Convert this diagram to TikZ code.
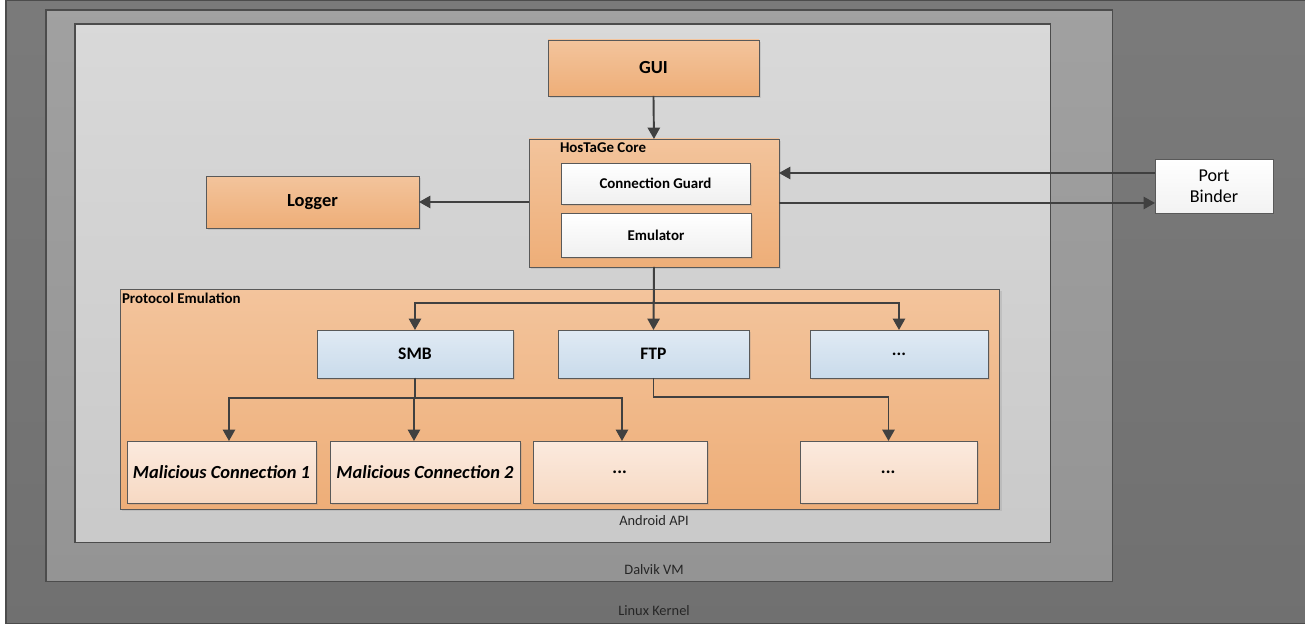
\documentclass[tikz,border=0pt]{standalone}
\usepackage{fontspec}
\setmainfont{Carlito}
\usetikzlibrary{arrows.meta,shadows}

\definecolor{orangetop}{HTML}{F3C49C}
\definecolor{orangebot}{HTML}{EEAE78}
\definecolor{bluetop}{HTML}{E0EAF4}
\definecolor{bluebot}{HTML}{C9DBEB}
\definecolor{peachtop}{HTML}{FBEADE}
\definecolor{peachbot}{HTML}{F7D9C3}
\definecolor{wiretone}{HTML}{404040}

\begin{document}
\begin{tikzpicture}[x=0.02cm,y=-0.02cm,
    every node/.style={inner sep=0pt,outer sep=0pt},
    layer/.style={draw=black!70,line width=0.6pt,anchor=north west},
    layertext/.style={font=\fontsize{8.2}{9}\selectfont,text=black!85},
    block/.style={draw=black!65,line width=0.5pt,anchor=north west,
        drop shadow={shadow xshift=1.3pt,shadow yshift=-1.3pt,opacity=0.2}},
    orangebox/.style={block,top color=orangetop,bottom color=orangebot},
    whitebox/.style={block,top color=white,bottom color=black!6,
        font=\fontsize{8.5}{10}\selectfont\bfseries},
    protobox/.style={block,top color=bluetop,bottom color=bluebot,
        minimum height=0.96cm,font=\fontsize{10}{12}\selectfont\bfseries},
    sessionbox/.style={block,top color=peachtop,bottom color=peachbot,
        minimum height=1.24cm,font=\fontsize{10.5}{12}\selectfont\bfseries\itshape},
    grouptitle/.style={anchor=north west,font=\fontsize{8.5}{10}\selectfont\bfseries},
    conn/.style={draw=wiretone,line width=1.1pt,
        -{Triangle[length=6.5pt,width=7pt]}}]
  \useasboundingbox[fill=white] (0,0) rectangle (1305,625);

  \node[layer,top color=black!52,bottom color=black!56,minimum width=26.2cm,
    minimum height=12.48cm] (linux) at (6,0) {};
  \node[layer,top color=black!37,bottom color=black!42,minimum width=21.34cm,
    minimum height=11.44cm] (dalvik) at (46,10) {};
  \node[layer,top color=black!15,bottom color=black!21,minimum width=19.52cm,
    minimum height=10.38cm] (android) at (75,24) {};
  \node[layertext] (androidtext) at (654,521) {Android API};
  \node[layertext] (dalviktext) at (654,570) {Dalvik VM};
  \node[layertext] (linuxtext) at (654,611) {Linux Kernel};

  \node[orangebox,minimum width=4.22cm,minimum height=1.12cm,
    font=\fontsize{10.5}{12}\selectfont\bfseries] (gui) at (548,40) {GUI};
  \node[orangebox,minimum width=5cm,minimum height=2.56cm] (core) at (529,139) {};
  \node[grouptitle] (coretitle) at (560,143) {HosTaGe Core};
  \node[whitebox,minimum width=3.78cm,minimum height=0.82cm] (guard) at (561,163)
    {Connection Guard};
  \node[whitebox,minimum width=3.8cm,minimum height=0.88cm] (emulator) at (561,213)
    {Emulator};
  \node[orangebox,minimum width=4.26cm,minimum height=1.04cm,
    font=\fontsize{10.5}{12}\selectfont\bfseries] (logger) at (206,176) {Logger};
  \node[block,top color=white,bottom color=black!5,minimum width=2.36cm,
    minimum height=1.08cm,align=center,font=\fontsize{10.3}{12}\selectfont]
    (binder) at (1155,159) {Port\\Binder};

  \node[orangebox,minimum width=17.6cm,minimum height=4.4cm] (protocols) at (120,289) {};
  \node[grouptitle] (protocolstitle) at (122,293) {Protocol Emulation};
  \node[protobox,minimum width=3.92cm] (smb) at (317,330) {SMB};
  \node[protobox,minimum width=3.82cm] (ftp) at (558,330) {FTP};
  \node[protobox,minimum width=3.56cm] (protomore) at (810,330) {...};
  \node[sessionbox,minimum width=3.78cm] (session1) at (127,441) {Malicious Connection 1};
  \node[sessionbox,minimum width=3.8cm] (session2) at (330,441) {Malicious Connection 2};
  \node[sessionbox,minimum width=3.48cm] (smbmore) at (533,441) {...};
  \node[sessionbox,minimum width=3.54cm] (ftpmore) at (800,441) {...};

  \draw[conn] (gui.south) -- (core.north);
  \draw[conn] (logger.east -| core.west) -- (logger.east);
  \draw[conn] ([yshift=0.26cm]binder.west) -- ([yshift=0.26cm]binder.west -| core.east);
  \draw[conn] (core.east) -- (core.east -| binder.west);
  \draw[conn] (core.south) -- (ftp.north);
  \draw[conn] (core.south) -- ++(0,36) -| (smb.north);
  \draw[conn] (core.south) -- ++(0,36) -| (protomore.north);
  \draw[conn] (smb.south) -- ++(0,20) -| ([xshift=0.15cm]session1.north);
  \draw[conn] (smb.south) -- ++(0,20) -| ([xshift=-0.22cm]session2.north);
  \draw[conn] (smb.south) -- ++(0,20) -| ([xshift=0.04cm]smbmore.north);
  \draw[conn] (ftp.south) -- ++(0,19) -| (ftpmore.north);
\end{tikzpicture}
\end{document}
